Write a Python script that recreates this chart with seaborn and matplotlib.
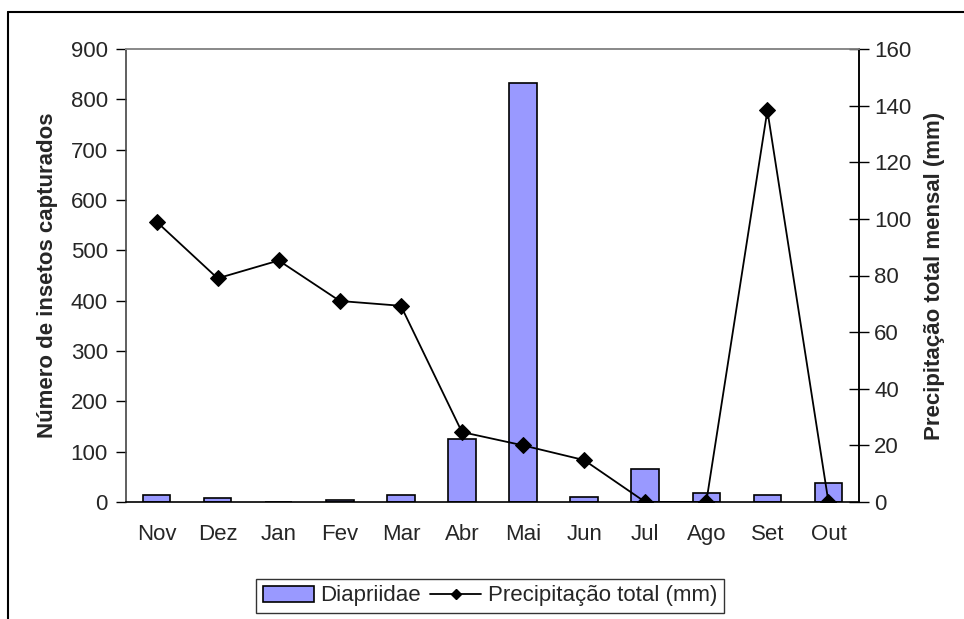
import numpy as np
import pandas as pd
import matplotlib
matplotlib.use("Agg")
import matplotlib.pyplot as plt
from matplotlib.patches import Patch
from matplotlib.lines import Line2D
import seaborn as sns

months = ["Nov", "Dez", "Jan", "Fev", "Mar", "Abr", "Mai", "Jun", "Jul", "Ago", "Set", "Out"]
diapriidae = [14, 7, 0, 3, 14, 125, 832, 10, 66, 17, 14, 38]
precip = [99, 79, 85.3, 71, 69.3, 24.7, 20, 14.8, 0, 0, 138.3, 0]
left_ticks = [0, 100, 200, 300, 400, 500, 600, 700, 800, 900]
right_ticks = [0, 20, 40, 60, 80, 100, 120, 140, 160]

sns.set_theme(style="white")
plt.rcParams['font.family'] = ['Liberation Sans', 'DejaVu Sans']

df = pd.DataFrame({"mes": months, "Diapriidae": diapriidae,
                   "pos": np.arange(len(months)), "Precip": precip})

FS = 16

fig = plt.figure(figsize=(9.64, 6.19), dpi=100)
ax = fig.add_axes([126/964, 1-502/619, (859-126)/964, (502-49)/619])

bar_color = "#9999FF"
sns.barplot(data=df, x="mes", y="Diapriidae", order=months, color=bar_color,
            edgecolor="black", linewidth=1.2, width=0.45, saturation=1, ax=ax)

ax.set_ylim(0, 900)
ax.set_xlim(-0.5, 11.5)
ax.set_yticks(left_ticks)
ax.set_xticks(np.arange(-0.5, 12, 1), minor=False)
ax.set_xticklabels([])
ax.set_xticks(np.arange(12), minor=True)
ax.set_xticklabels(months, minor=True)
ax.tick_params(axis="x", which="major", direction="out", length=7, width=1, color="black")
ax.tick_params(axis="x", which="minor", length=0, labelsize=FS, pad=16)
ax.tick_params(axis="y", direction="out", length=7, width=1, color="black", labelsize=FS, pad=6)
ax.set_xlabel("")
ax.set_ylabel("Número de insetos capturados", fontsize=FS, fontweight="bold", labelpad=9)

ax.spines["top"].set_color("#888888")
ax.spines["left"].set_color("#444444")
ax.spines["bottom"].set_color("black")
for s in ax.spines.values():
    s.set_linewidth(1.2)

ax2 = ax.twinx()
sns.lineplot(data=df, x="pos", y="Precip", color="black", marker="D", markersize=8,
             markeredgecolor="black", linewidth=1.3, ax=ax2, legend=False)
ax2.set_ylim(0, 160)
ax2.set_xlim(-0.5, 11.5)
ax2.set_yticks(right_ticks)
ax2.tick_params(axis="y", direction="inout", length=14, width=1, color="black", labelsize=FS, pad=4)
ax2.set_ylabel("Precipitação total mensal (mm)", fontsize=FS, fontweight="bold", labelpad=9)
ax2.set_xlabel("")
ax2.spines["right"].set_color("black")
ax2.spines["top"].set_color("#888888")
for s in ax2.spines.values():
    s.set_linewidth(1.2)
ax2.spines["left"].set_visible(False)
ax2.spines["bottom"].set_visible(False)

handles = [Patch(facecolor=bar_color, edgecolor="black", linewidth=1.2),
           Line2D([0], [0], color="black", marker="D", markersize=5, linewidth=1.3)]
leg = fig.legend(handles, ["Diapriidae", "Precipitação total (mm)"], loc="center",
                 bbox_to_anchor=(490/964, 1-596/619), ncol=2, fontsize=FS, frameon=True,
                 fancybox=False, edgecolor="black", handlelength=2.3, handletextpad=0.3,
                 columnspacing=0.4, borderpad=0.3)
leg.get_frame().set_linewidth(1.0)

# outer chart border (top and left visible)
fig.add_artist(Line2D([8/964, 1.0], [1-12/619, 1-12/619], color="black", linewidth=1.5,
                      transform=fig.transFigure))
fig.add_artist(Line2D([8/964, 8/964], [0, 1-12/619], color="black", linewidth=1.5,
                      transform=fig.transFigure))

fig.savefig("out.png", dpi=100)
